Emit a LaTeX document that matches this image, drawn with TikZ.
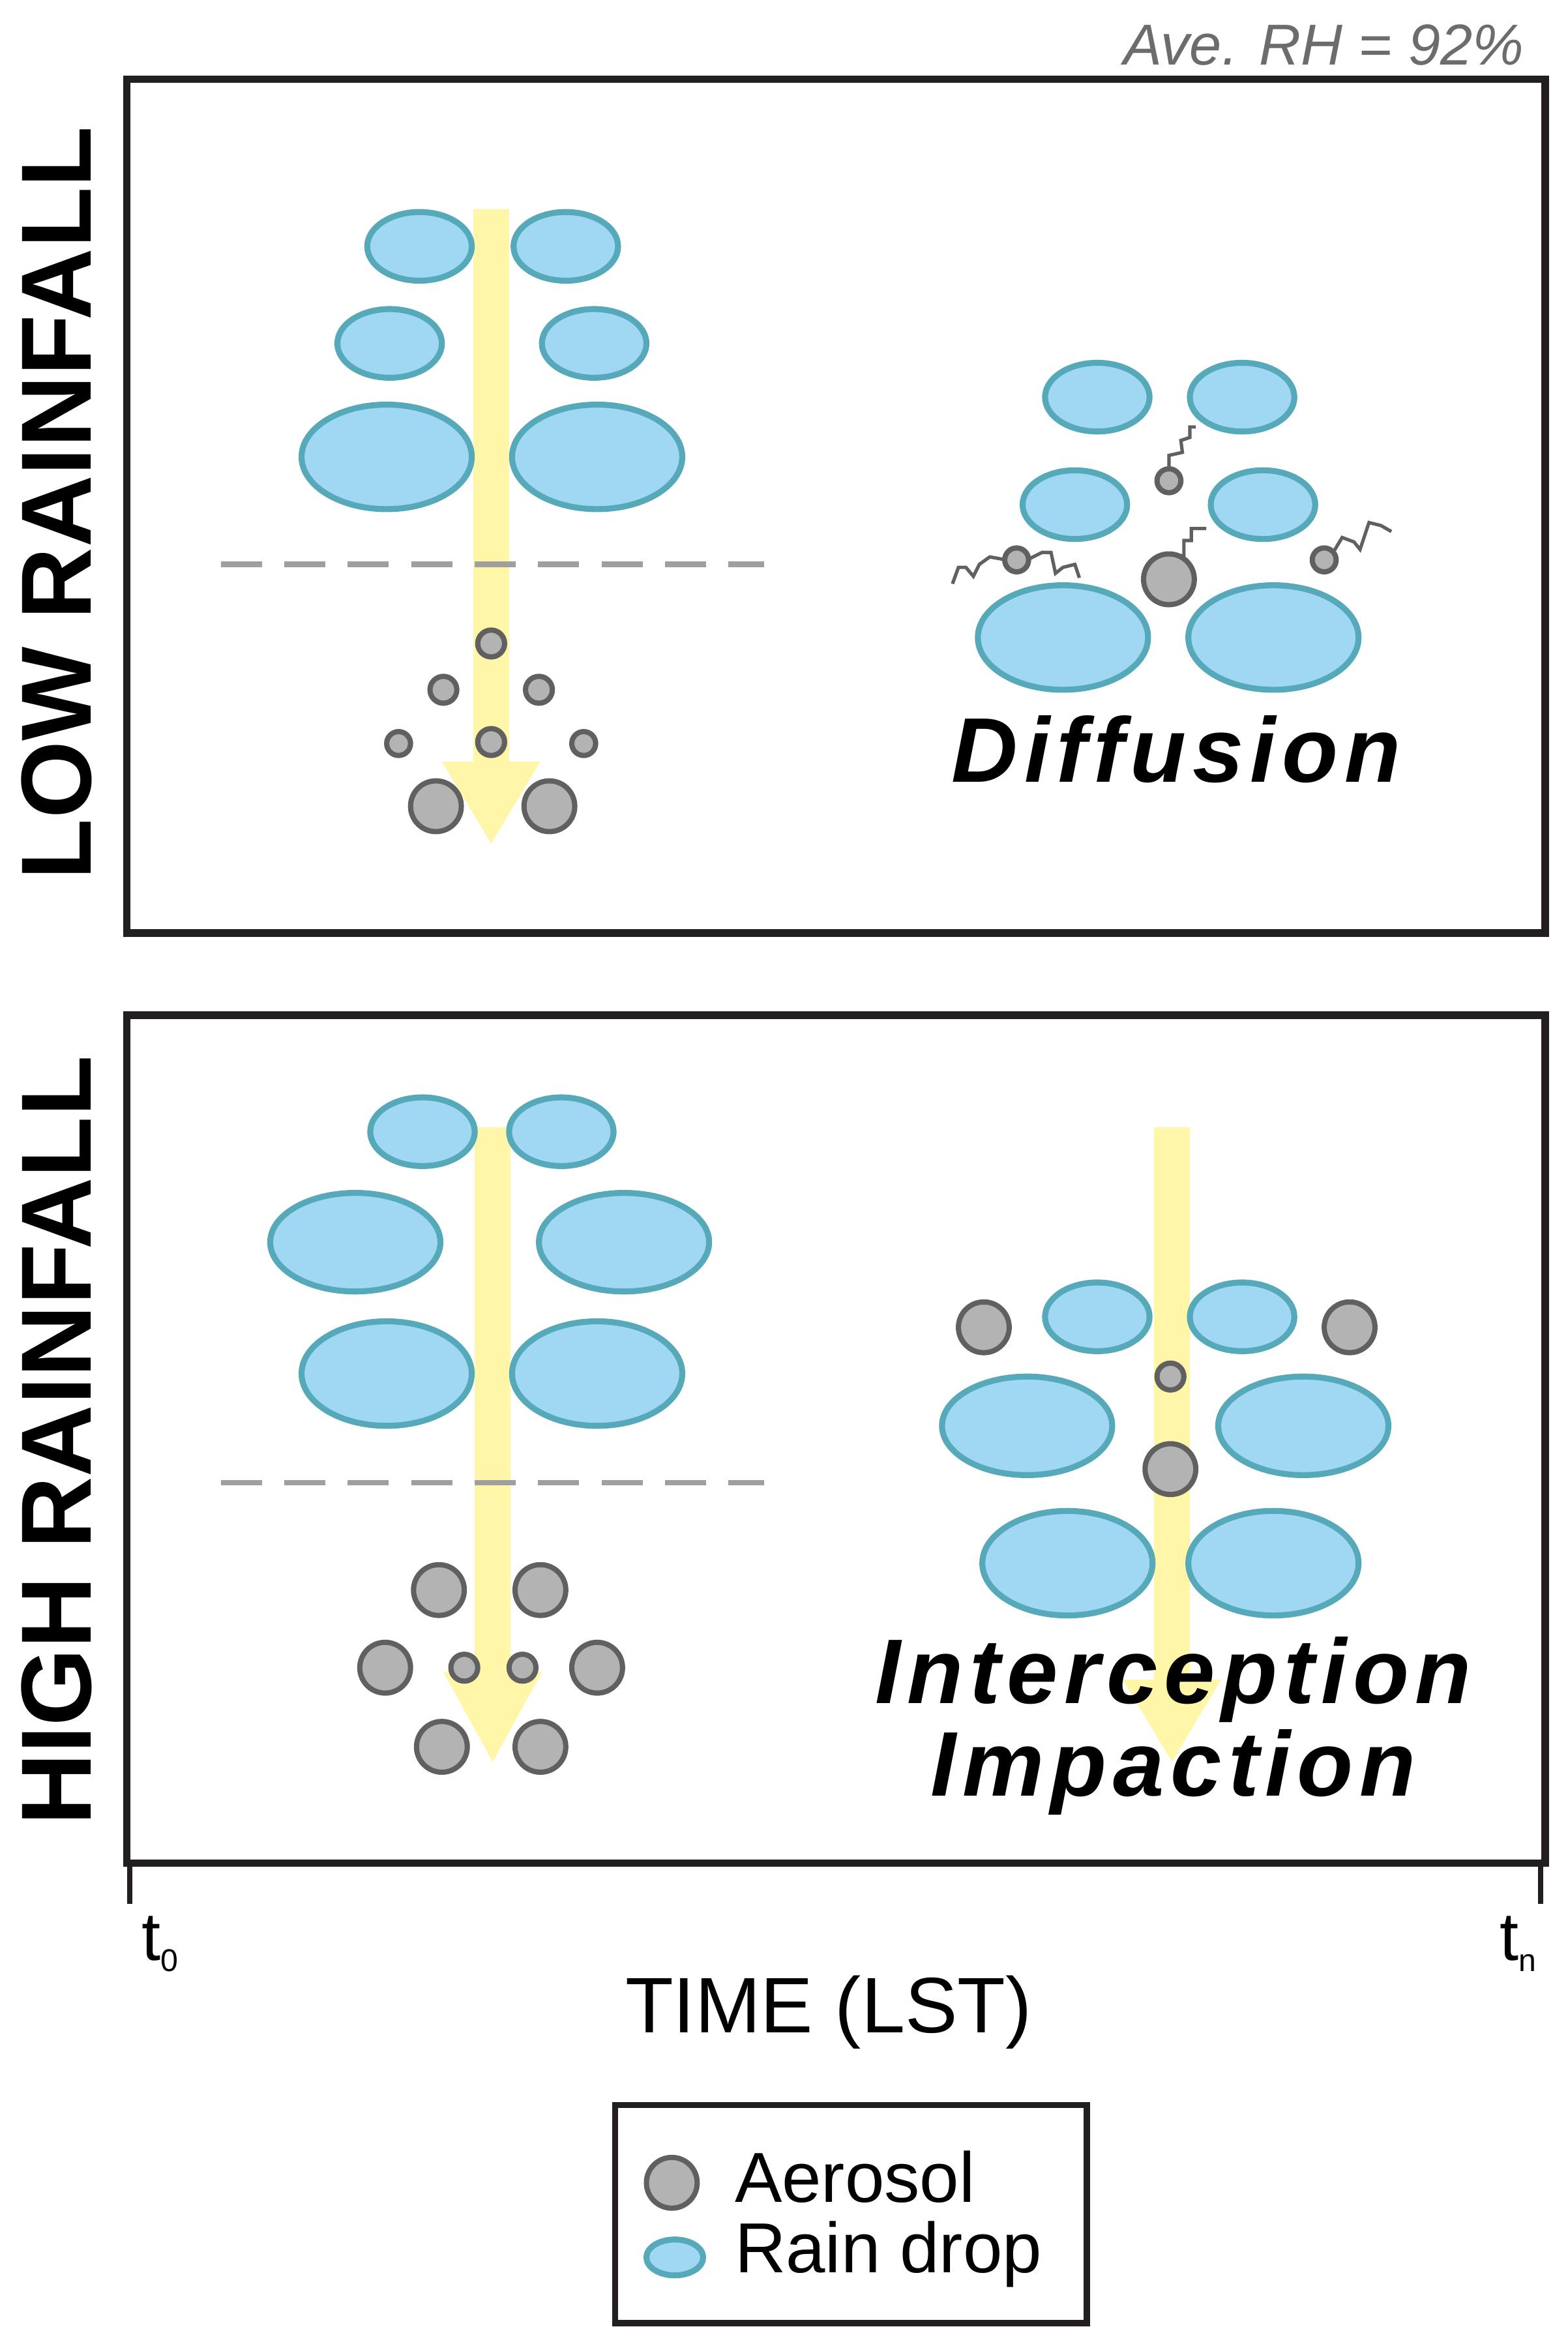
\documentclass[tikz,border=0pt]{standalone}
\usepackage{fontspec}
\setmainfont{Liberation Sans}
\newcommand\ls[1]{\def\sp{\kern0.07em}#1}
\begin{document}
\begin{tikzpicture}[x=0.02cm,y=-0.02cm,
  dropc/.style={fill=dropfill,draw=dropline,line width=0.08cm},
  aer/.style={fill=aerfill,draw=aerline,line width=0.07cm},
  frame/.style={draw=framec,line width=0.1cm},
  gdash/.style={draw=gray!75,line width=0.075cm,dash pattern=on 0.55cm off 0.3cm},
  tail/.style={draw=aerline,line width=0.045cm},
  arrowc/.style={fill=arrowfill},
  bi/.style={font=\bfseries\itshape\fontsize{35}{40}\selectfont}]
\definecolor{dropfill}{HTML}{A0D8F4}
\definecolor{dropline}{HTML}{55A9B8}
\definecolor{aerfill}{HTML}{B3B3B3}
\definecolor{aerline}{HTML}{606060}
\definecolor{framec}{HTML}{231F20}
\definecolor{arrowfill}{HTML}{FFF6A8}
\newcommand\drp[4]{\path[dropc] (#1,#2) ellipse ({#3} and {#4});}
\newcommand\aes[3]{\path[aer] (#1,#2) circle ({#3});}
\newcommand\arw[4]{\path[arrowc] (#1-12,#2) -- (#1+12,#2) -- (#1+12,#3) -- (#1+33,#3) -- (#1,#4) -- (#1-33,#3) -- (#1-12,#3) -- cycle;}
\useasboundingbox (0,0) rectangle (1050,1570);
% frames
\path[frame] (85,53) rectangle (1035,625);
\path[frame] (85,680) rectangle (1035,1248);
\draw[framec,line width=0.07cm] (87,1248) -- (87,1275) (1032,1248) -- (1032,1275);
\node[font=\fontsize{26}{30}\selectfont] at (107,1302) {t\raisebox{-0.3ex}{\fontsize{12}{14}\selectfont 0}};
\node[font=\fontsize{26}{30}\selectfont] at (1017,1302) {t\raisebox{-0.3ex}{\fontsize{12}{14}\selectfont n}};
\node[font=\fontsize{30}{34}\selectfont] at (555,1348) {TIME (LST)};
\node[font=\itshape\fontsize{22}{26}\selectfont,text=gray!85!black,anchor=east] at (1027,30) {Ave. RH = 92\%};
\node[font=\bfseries\fontsize{38}{42}\selectfont,rotate=90] at (38,337) {LOW RAINFALL};
\node[font=\bfseries\fontsize{38}{42}\selectfont,rotate=90] at (38,965) {HIGH RAINFALL};
% legend
\draw[framec,line width=0.08cm] (412,1410) rectangle (728,1556);
\aes{450}{1462}{17}
\node[anchor=west,font=\fontsize{27}{30}\selectfont] at (486,1458) {Aerosol};
\drp{452}{1512}{19}{12}
\node[anchor=west,font=\fontsize{27}{30}\selectfont] at (486,1510) {Rain drop};
% top-left
\arw{329}{140}{510}{565}
\drp{281}{165}{35}{23}\drp{379}{165}{35}{23}
\drp{261}{230}{35}{23}\drp{398}{230}{35}{23}
\drp{259}{306}{57}{35}\drp{400}{306}{57}{35}
\path[gdash] (148,378) -- (512,378);
\aes{329}{431}{9}\aes{297}{462}{9}\aes{361}{462}{9}
\aes{267}{498}{8}\aes{329}{497}{9}\aes{391}{498}{8}
\aes{292}{540}{17}\aes{368}{540}{17}
% diffusion
\drp{735}{266}{35}{23}\drp{832}{266}{35}{23}
\drp{720}{338}{35}{23}\drp{846}{338}{35}{23}
\drp{712}{427}{57}{35}\drp{853}{427}{57}{35}
\path[tail] (783,316) -- (783,305) -- (792,303) -- (791,295) -- (797,293) -- (797,286) -- (801,286);
\aes{783}{322}{8}
\path[tail] (783,373) -- (793,372) -- (793,362) -- (798,362) -- (798,354) -- (808,354);
\aes{783}{388}{17}
\path[tail] (638,391) -- (642,380) -- (647,380) -- (652,386) -- (656,378) -- (663,373) -- (674,375)
  (688,375) -- (698,370) -- (704,370) -- (707,384) -- (712,380) -- (720,378) -- (723,387);
\aes{681}{375}{8}
\path[tail] (893,370) -- (899,360) -- (907,363) -- (911,368) -- (917,350) -- (925,352) -- (932,356);
\aes{887}{375}{8}
\node[bi] at (788,502) {\ls{D\sp i\sp f\sp f\sp u\sp s\sp i\sp o\sp n}};
% bottom-left
\arw{330}{755}{1120}{1180}
\drp{283}{758}{35}{23}\drp{376}{758}{35}{23}
\drp{238}{832}{57}{33}\drp{418}{832}{57}{33}
\drp{259}{920}{57}{35}\drp{400}{920}{57}{35}
\path[gdash] (148,993) -- (512,993);
\aes{294}{1065}{17}\aes{362}{1065}{17}
\aes{258}{1117}{17}\aes{400}{1117}{17}
\aes{311}{1117}{9}\aes{350}{1117}{9}
\aes{296}{1170}{17}\aes{362}{1170}{17}
% bottom-right
\arw{785}{755}{1125}{1180}
\drp{735}{882}{35}{23}\drp{832}{882}{35}{23}
\drp{688}{955}{57}{33}\drp{873}{955}{57}{33}
\drp{715}{1047}{57}{35}\drp{853}{1047}{57}{35}
\aes{659}{889}{17}\aes{904}{889}{17}
\aes{784}{922}{9}\aes{784}{984}{17}
\node[bi] at (786,1125) {\ls{I\sp n\sp t\sp e\sp r\sp c\sp e\sp p\sp t\sp i\sp o\sp n}};
\node[bi] at (786,1187) {\ls{I\sp m\sp p\sp a\sp c\sp t\sp i\sp o\sp n}};
\end{tikzpicture}
\end{document}
